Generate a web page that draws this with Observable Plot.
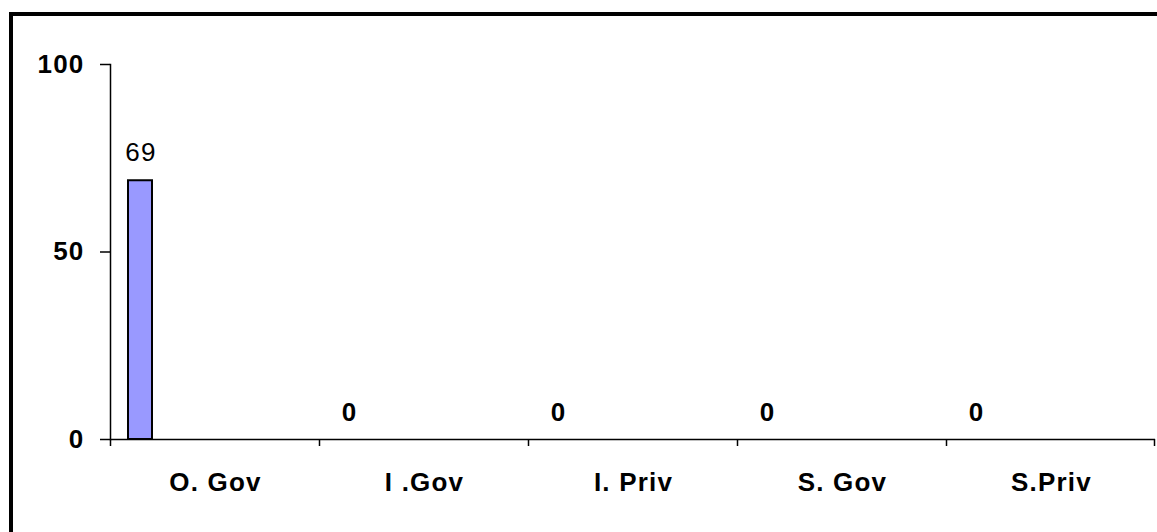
<!DOCTYPE html>
<html>
<head>
<meta charset="utf-8">
<script src="https://cdn.jsdelivr.net/npm/d3@7"></script>
<script src="https://cdn.jsdelivr.net/npm/@observablehq/plot@0.6"></script>
<style>
  html, body { margin: 0; padding: 0; background: #fff; overflow: hidden; }
  #wrap { position: relative; width: 1157px; height: 532px; overflow: hidden; }
  #frame { position: absolute; left: 9px; top: 12px; width: 1200px; height: 600px; border: 4px solid #000; box-sizing: border-box; }
  #chart { position: absolute; left: 0; top: 0; }
  #chart svg text { letter-spacing: 1.2px; }
</style>
</head>
<body>
<div id="wrap"><div id="frame"></div><div id="chart"></div></div>
<script>
const categories = ["O. Gov", "I .Gov", "I. Priv", "S. Gov", "S.Priv"];
const values = [69, 0, 0, 0, 0];
const yTicks = [0, 50, 100];

const data = categories.map((c, i) => ({category: c, value: values[i]}));
const bw = (1155 - 110) / categories.length;
const font = "'Liberation Sans', Arial, sans-serif";

const plot = Plot.plot({
  width: 1157,
  height: 532,
  marginLeft: 110,
  marginRight: 2,
  marginTop: 64,
  marginBottom: 93,
  style: {fontFamily: font, background: "transparent", overflow: "visible"},
  x: {domain: categories, padding: 0},
  y: {domain: [0, 100]},
  marks: [
    Plot.barY(data, {x: "category", y: "value", fill: "#9999FF", stroke: "#000", strokeWidth: 2, insetLeft: 18, insetRight: 167}),
    Plot.frame({anchor: "left", stroke: "#000", strokeWidth: 1.5}),
    Plot.ruleY([0], {stroke: "#000", strokeWidth: 1.5}),
    Plot.ruleX(categories, {x: d => d, y1: 0, y2: 0, dx: -bw / 2, insetBottom: -7, stroke: "#000", strokeWidth: 1.5}),
    Plot.ruleX([categories[categories.length - 1]], {x: d => d, y1: 0, y2: 0, dx: bw / 2 - 1, insetBottom: -7, stroke: "#000", strokeWidth: 1.5}),
    Plot.axisY({ticks: yTicks, tickSize: 10, tickPadding: 16, tickFormat: d => String(d), fontSize: 26, fontWeight: "bold", stroke: "#000", strokeWidth: 1.5, label: null}),
    Plot.axisX({tickSize: 0, tickPadding: 33, fontSize: 26, fontWeight: "bold", label: null, dx: 0.5}),
    Plot.text(data.filter(d => d.value > 0), {x: "category", y: "value", text: d => String(d.value), dx: -74, dy: -28, fontSize: 26, fill: "#000"}),
    Plot.text(data.filter(d => d.value === 0), {x: "category", y: "value", text: d => String(d.value), dx: -74.5, dy: -27, fontSize: 26, fontWeight: "bold", fill: "#000"})
  ]
});
document.getElementById("chart").appendChild(plot);
</script>
</body>
</html>
